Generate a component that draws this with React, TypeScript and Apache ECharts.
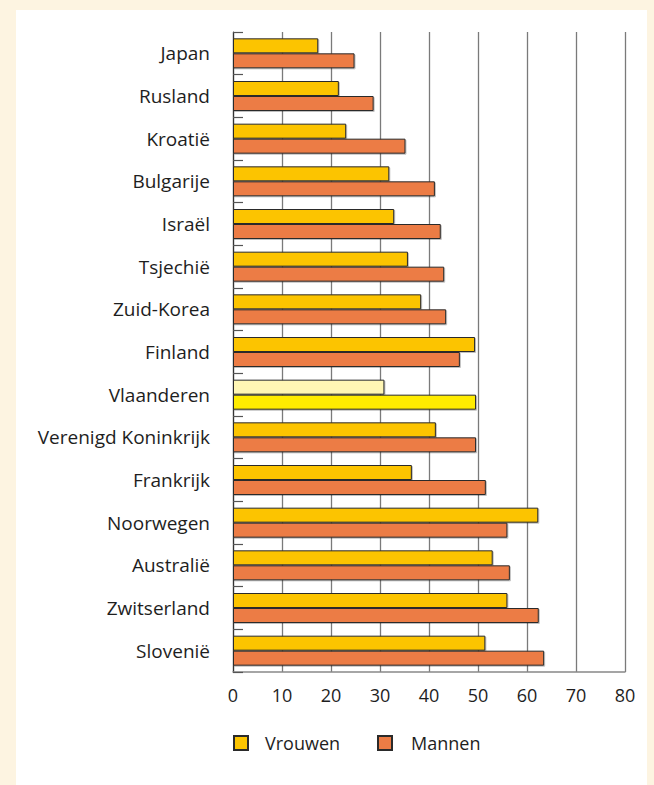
import React, { useEffect, useRef } from "react";
import * as echarts from "echarts";

const categories = [
  "Japan",
  "Rusland",
  "Kroatië",
  "Bulgarije",
  "Israël",
  "Tsjechië",
  "Zuid-Korea",
  "Finland",
  "Vlaanderen",
  "Verenigd Koninkrijk",
  "Frankrijk",
  "Noorwegen",
  "Australië",
  "Zwitserland",
  "Slovenië",
];
const vrouwen = [17.4, 21.6, 23.1, 31.9, 32.9, 35.7, 38.4, 49.4, 30.9, 41.4, 36.5, 62.3, 53.0, 56.0, 51.5];
const mannen = [24.8, 28.7, 35.2, 41.2, 42.4, 43.1, 43.5, 46.3, 49.6, 49.6, 51.6, 56.0, 56.5, 62.4, 63.5];
const xTicks = [0, 10, 20, 30, 40, 50, 60, 70, 80];
const highlight = "Vlaanderen";

const FONT = "'Open Sans', 'Noto Sans', sans-serif";
const YELLOW = "#fcc400";
const ORANGE = "#ec7c45";
const HL_VROUW = "#fff6b4";
const HL_MAN = "#ffec00";
const TXT = "#1e1e1e";

export default function App() {
  const ref = useRef<HTMLDivElement>(null);
  useEffect(() => {
    if (!ref.current) return;
    const chart = echarts.init(ref.current, null, { renderer: "svg" });
    const border = { borderColor: "#2a2a2a", borderWidth: 1 };
    const mk = (vals: number[], hl: string) =>
      vals.map((v, i) =>
        categories[i] === highlight
          ? { value: v, itemStyle: { color: hl, ...border } }
          : { value: v }
      );
    const shadow = { shadowColor: "rgba(0,0,0,0.25)", shadowOffsetX: 1, shadowOffsetY: 1, shadowBlur: 1 };
    chart.setOption({
      animation: false,
      textStyle: { fontFamily: FONT },
      grid: { left: 233, right: 29, top: 32, bottom: 113 },
      xAxis: {
        type: "value",
        min: xTicks[0],
        max: xTicks[xTicks.length - 1],
        interval: 10,
        axisLine: { show: true, lineStyle: { color: "#888", width: 1.5 } },
        axisTick: { show: false },
        axisLabel: { color: TXT, fontSize: 18, margin: 14, fontFamily: FONT },
        splitLine: { show: true, lineStyle: { color: "#7a7a7a", width: 1.3 } },
      },
      yAxis: {
        type: "category",
        data: categories,
        inverse: true,
        axisLine: { show: true, lineStyle: { color: "#333", width: 1.2 } },
        axisTick: { show: true, inside: true, length: 10, lineStyle: { color: "#555", width: 1.2 } },
        axisLabel: { color: TXT, fontSize: 19, margin: 23, fontFamily: FONT },
      },
      legend: [
        {
          data: ["Vrouwen"],
          left: 233,
          top: 734,
          padding: 0,
          itemWidth: 14,
          itemHeight: 14,
          icon: "rect",
          textStyle: { color: TXT, fontSize: 18, fontFamily: FONT, padding: [0, 0, 0, 12] },
        },
        {
          data: ["Mannen"],
          left: 377,
          top: 734,
          padding: 0,
          itemWidth: 14,
          itemHeight: 14,
          icon: "rect",
          textStyle: { color: TXT, fontSize: 18, fontFamily: FONT, padding: [0, 0, 0, 14] },
        },
      ],
      series: [
        {
          name: "Vrouwen",
          type: "bar",
          data: mk(vrouwen, HL_VROUW),
          barWidth: 15,
          barGap: "0%",
          itemStyle: { color: YELLOW, ...border, ...shadow },
        },
        {
          name: "Mannen",
          type: "bar",
          data: mk(mannen, HL_MAN),
          barWidth: 15,
          barGap: "0%",
          itemStyle: { color: ORANGE, ...border, ...shadow },
        },
      ],
    });
    return () => chart.dispose();
  }, []);
  return (
    <div style={{ position: "fixed", left: 0, top: 0, width: 654, height: 785, background: "#fdf4e1" }}>
      <div style={{ position: "absolute", left: 16, top: 10, width: 631, height: 775, background: "#ffffff" }} />
      <div ref={ref} style={{ position: "absolute", left: 0, top: 0, width: 654, height: 785 }} />
    </div>
  );
}
